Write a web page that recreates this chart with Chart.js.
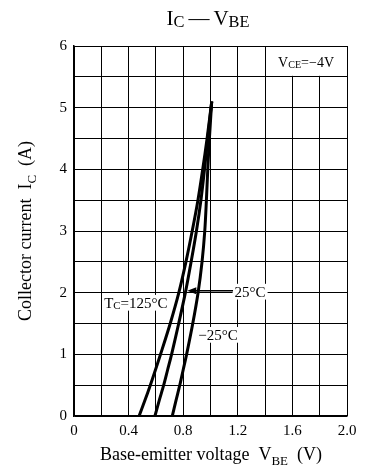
<!DOCTYPE html>
<html><head><meta charset="utf-8">
<script src="https://cdn.jsdelivr.net/npm/chart.js@4"></script>
<style>html,body{margin:0;padding:0;background:#fff}#wrap{width:367px;height:469px;position:relative}</style>
</head><body><div id="wrap"><canvas id="c" width="367" height="469"></canvas></div>
<script>
// ---- data ----
const currentA = [0, 0.25, 0.5, 0.75, 1, 1.5, 2, 2.5, 3, 3.5, 4, 4.5, 5.1];
const vbe125 = [0.477, 0.519, 0.559, 0.597, 0.634, 0.705, 0.768, 0.820, 0.866, 0.908, 0.943, 0.975, 1.009];
const vbe25  = [0.593, 0.624, 0.657, 0.686, 0.715, 0.767, 0.816, 0.858, 0.897, 0.930, 0.956, 0.980, 1.009];
const vbeM25 = [0.720, 0.747, 0.775, 0.800, 0.825, 0.870, 0.909, 0.938, 0.958, 0.970, 0.980, 0.992, 1.009];
const xTickLabels = ['0', '0.4', '0.8', '1.2', '1.6', '2.0'];
const yTickLabels = ['0', '1', '2', '3', '4', '5', '6'];
const seriesNames = ['Tc=125°C', '25°C', '−25°C'];

const SERIF = '"Liberation Serif", "Times New Roman", serif';
function pts(xs, ys) { return xs.map((x, i) => ({ x: x, y: ys[i] })); }

function richWidth(ctx, segs, size) {
  let w = 0;
  segs.forEach(s => {
    ctx.font = (s.sub ? size * s.subScale : size) + 'px ' + SERIF;
    w += ctx.measureText(s.t).width + (s.gap || 0);
  });
  return w;
}
function drawRich(ctx, segs, x, y, size, align) {
  segs = segs.map(s => Object.assign({ subScale: 0.75, off: 0.15 }, s));
  const w = richWidth(ctx, segs, size);
  let cx = align === 'center' ? x - w / 2 : (align === 'right' ? x - w : x);
  ctx.textAlign = 'left';
  ctx.textBaseline = 'alphabetic';
  segs.forEach(s => {
    const fs = s.sub ? size * s.subScale : size;
    ctx.font = fs + 'px ' + SERIF;
    cx += (s.gap || 0) / 2;
    ctx.fillText(s.t, cx, y + (s.sub ? size * s.off : 0));
    cx += ctx.measureText(s.t).width + (s.gap || 0) / 2;
  });
  return w;
}

const annot = {
  id: 'annot',
  afterDraw(chart) {
    const ctx = chart.ctx;
    const xs = chart.scales.x, ys = chart.scales.y;
    ctx.save();
    ctx.fillStyle = '#000';
    // title
    drawRich(ctx, [{ t: 'I' }, { t: 'C', sub: true, off: 0.08, subScale: 0.78 }, { t: '—', gap: 8 }, { t: 'V' }, { t: 'BE', sub: true, off: 0.08, subScale: 0.78 }], 208, 25, 21, 'center');
    // x axis title
    drawRich(ctx, [{ t: 'Base-emitter voltage  V' }, { t: 'BE', sub: true, off: 0.3, subScale: 0.72 }, { t: '  (V)' }], 211, 460, 18, 'center');
    // y axis title
    ctx.save();
    ctx.translate(31, 231);
    ctx.rotate(-Math.PI / 2);
    drawRich(ctx, [{ t: 'Collector current  I' }, { t: 'C', sub: true, off: 0.3, subScale: 0.72 }, { t: '  (A)' }], 0, 0, 18, 'center');
    ctx.restore();

    // VCE box
    const bx0 = xs.getPixelForValue(1.42), bx1 = xs.getPixelForValue(2.0) - 1;
    const by0 = ys.getPixelForValue(6) + 1, by1 = ys.getPixelForValue(5.5) - 1;
    ctx.fillStyle = '#fff';
    ctx.fillRect(bx0, by0, bx1 - bx0, by1 - by0);
    ctx.fillStyle = '#000';
    drawRich(ctx, [{ t: 'V' }, { t: 'CE', sub: true, off: 0.05, subScale: 0.72 }, { t: '=−4V' }], xs.getPixelForValue(1.70), ys.getPixelForValue(5.74) + 5, 14, 'center');

    // labels with white background
    function label(segs, vx, vy, size) {
      const px = xs.getPixelForValue(vx), py = ys.getPixelForValue(vy);
      const w = richWidth(ctx, segs.map(s => Object.assign({ subScale: 0.75 }, s)), size);
      ctx.fillStyle = '#fff';
      ctx.fillRect(px - w / 2 - 2, py - size * 0.55, w + 4, size * 1.05);
      ctx.fillStyle = '#000';
      drawRich(ctx, segs, px, py + size * 0.33, size, 'center');
    }
    label([{ t: 'T' }, { t: 'C', sub: true, off: 0.08, subScale: 0.72 }, { t: '=125°C' }], 0.453, 1.83, 15);
    label([{ t: '25°C' }], 1.29, 2.01, 15);
    label([{ t: '−25°C' }], 1.055, 1.31, 15);

    // arrow toward 25°C curve
    const ay = ys.getPixelForValue(2.03);
    const ax0 = xs.getPixelForValue(1.165), ax1 = xs.getPixelForValue(0.83);
    ctx.strokeStyle = '#000';
    ctx.lineWidth = 1.5;
    ctx.beginPath(); ctx.moveTo(ax0, ay); ctx.lineTo(ax1 + 6, ay); ctx.stroke();
    ctx.beginPath(); ctx.moveTo(ax1, ay); ctx.lineTo(ax1 + 9, ay - 3.5); ctx.lineTo(ax1 + 9, ay + 3.5); ctx.closePath(); ctx.fill();
    ctx.restore();
  }
};

const ds = (name, xs) => ({
  label: name, data: pts(xs, currentA), showLine: true, borderColor: '#000', borderWidth: 3,
  pointRadius: 0, fill: false, tension: 0.3, borderCapStyle: 'butt', borderJoinStyle: 'round'
});

new Chart(document.getElementById('c'), {
  type: 'scatter',
  data: { datasets: [ds(seriesNames[0], vbe125), ds(seriesNames[1], vbe25), ds(seriesNames[2], vbeM25)] },
  options: {
    responsive: false, animation: false, devicePixelRatio: 1,
    layout: { padding: { left: 0, right: 20, top: 46, bottom: 0 } },
    plugins: { legend: { display: false }, tooltip: { enabled: false }, title: { display: false } },
    scales: {
      x: {
        type: 'linear', min: 0, max: 2, afterFit(s) { s.height = 53; },
        afterBuildTicks(s) { s.ticks = Array.from({ length: 11 }, (_, i) => ({ value: +(i * 0.2).toFixed(1) })); },
        ticks: {
          autoSkip: false, maxRotation: 0, padding: 6, color: '#000',
          font: { family: SERIF, size: 15 },
          callback(v) { const i = Math.round(v / 0.2); return i % 2 === 0 ? xTickLabels[i / 2] : ''; }
        },
        grid: { color: '#000', lineWidth: 1, drawTicks: false },
        border: { color: '#000', width: 1.5 }
      },
      y: {
        type: 'linear', min: 0, max: 6, afterFit(s) { s.width = 74; },
        afterBuildTicks(s) { s.ticks = Array.from({ length: 13 }, (_, i) => ({ value: i * 0.5 })); },
        ticks: {
          autoSkip: false, padding: 7, color: '#000',
          font: { family: SERIF, size: 15 },
          callback(v) { return Number.isInteger(v) ? yTickLabels[v] : ''; }
        },
        grid: { color: '#000', lineWidth: 1, drawTicks: false },
        border: { color: '#000', width: 1.5 }
      }
    }
  },
  plugins: [annot]
});
</script></body></html>
